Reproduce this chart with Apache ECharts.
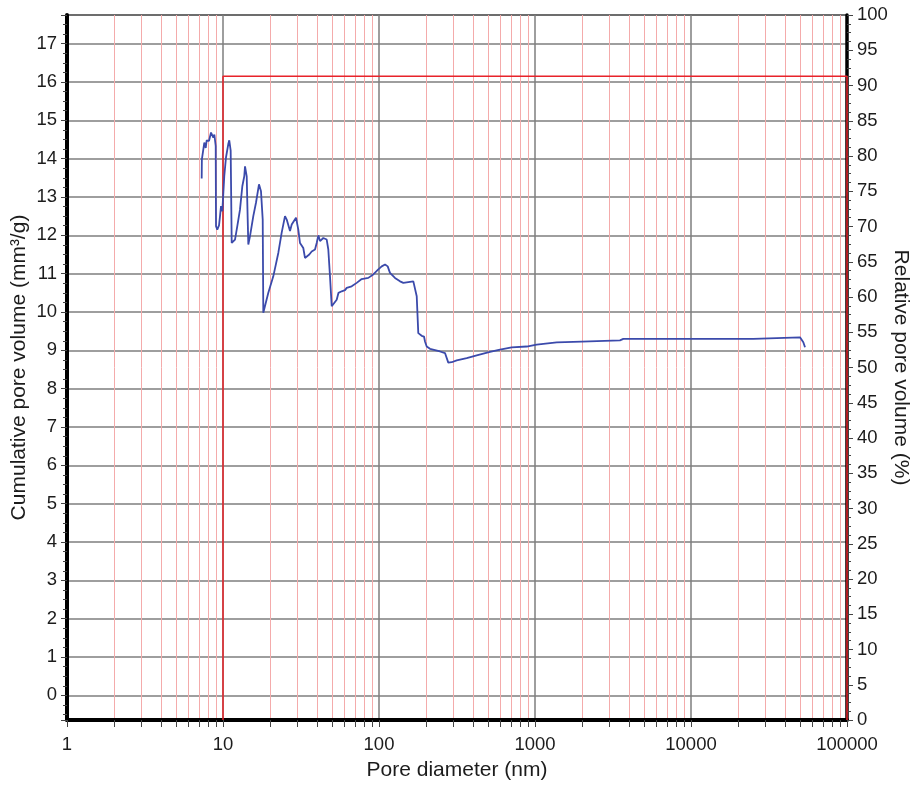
<!DOCTYPE html>
<html>
<head>
<meta charset="utf-8">
<title>Pore size distribution</title>
<script src="https://cdn.jsdelivr.net/npm/echarts@6/dist/echarts.min.js"></script>
<style>
  html, body { margin: 0; padding: 0; background: #fff; }
  #chart { width: 920px; height: 789px; }
</style>
</head>
<body>
<div id="chart"></div>
<script>
// Pore diameter (nm) and the cumulative pore volume (mm³/g) measured at each diameter
const diameterNm = [
  7.30, 7.32, 7.59, 7.75, 7.86, 8.13, 8.38, 8.54, 8.67, 8.80,
  8.98, 9.02, 9.19, 9.43, 9.57, 9.71, 9.90, 10.19, 10.45, 10.81,
  10.97, 11.20, 11.37, 11.64, 11.94, 12.35, 12.85, 13.30, 13.69, 13.84,
  14.19, 14.40, 14.53, 14.90, 15.64, 16.27, 17.01, 17.52, 17.97, 18.13,
  18.59, 19.52, 21.01, 22.62, 23.78, 24.97, 25.61, 26.22, 26.89, 27.57,
  28.23, 29.38, 30.39, 31.16, 31.95, 32.71, 33.54, 34.39, 35.74, 37.03,
  38.88, 39.87, 40.83, 41.87, 42.93, 43.95, 45.07, 46.21, 47.32, 48.52,
  49.76, 50.95, 53.56, 55.0, 57.67, 60.54, 62.09, 66.83, 71.95, 77.45,
  85.40, 91.93, 98.97, 104.1, 109.3, 113.7, 117.6, 126.6, 136.4, 143.2,
  154.1, 166.0, 170.2, 174.5, 178.6, 183.2, 187.8, 194.3, 197.2, 202.2,
  212.3, 246.0, 264.9, 278.1, 292.4, 314.8, 364.9, 422.9, 514.6, 596.6,
  708.8, 884.9, 1025, 1378, 1993, 3506, 3681, 25080, 25720, 49960,
  52480, 53810
];
const cumulativeVolume = [
  13.48, 13.98, 14.42, 14.28, 14.48, 14.46, 14.68, 14.72, 14.55, 14.63,
  14.33, 12.24, 12.15, 12.26, 12.50, 12.76, 12.63, 13.54, 14.03, 14.38,
  14.48, 14.21, 11.80, 11.76, 11.89, 12.24, 12.67, 13.28, 13.54, 13.80,
  13.54, 12.41, 11.76, 11.98, 12.50, 12.85, 13.33, 13.15, 12.41, 9.98,
  9.93, 10.50, 10.93, 11.54, 12.07, 12.50, 12.41, 12.46, 12.11, 12.28,
  12.33, 12.46, 12.15, 11.80, 11.80, 11.67, 11.41, 11.41, 11.50, 11.58,
  11.63, 11.80, 12.00, 11.85, 11.80, 11.93, 11.98, 11.89, 11.63, 10.93,
  10.15, 10.13, 10.32, 10.50, 10.54, 10.57, 10.63, 10.67, 10.76, 10.86,
  10.89, 10.98, 11.11, 11.19, 11.24, 11.19, 11.02, 10.89, 10.80, 10.76,
  10.78, 10.80, 10.76, 10.41, 9.45, 9.41, 9.38, 9.36, 9.23, 9.10,
  9.04, 8.97, 8.93, 8.68, 8.69, 8.74, 8.80, 8.87, 8.96, 9.02,
  9.08, 9.10, 9.15, 9.21, 9.23, 9.26, 9.30, 9.30, 9.34, 9.34,
  9.21, 9.08
];

// Relative pore volume (%) trace
const relativeDiameterNm = [10, 10, 100000, 100000];
const relativeVolumePct = [0, 91.3, 91.3, 0];

// Axis ranges and tick spacing
const xRange = [1, 100000];
const leftRange = [-0.642, 17.747];
const rightRange = [0, 100];
const rightStep = 5;

const FONT = '"Liberation Sans", Arial, sans-serif';
const INK = '#1c1c1c';
const GRID_GRAY = '#7e7e7e';
const GRID_PINK = '#f4abab';
const TICK = '#444';

const chart = echarts.init(document.getElementById('chart'), null, { renderer: 'canvas' });

const option = {
  animation: false,
  backgroundColor: '#fff',
  textStyle: { fontFamily: FONT, color: INK },
  grid: {
    left: 67, right: 73, top: 15, bottom: 69,
    outerBoundsMode: 'none',
    containLabel: false,
    show: true, borderColor: '#000', borderWidth: 1.5, backgroundColor: '#fff'
  },
  xAxis: {
    type: 'log',
    logBase: 10,
    min: xRange[0],
    max: xRange[1],
    name: 'Pore diameter (nm)',
    nameLocation: 'middle',
    nameGap: 40,
    nameMoveOverlap: false,
    nameTextStyle: { fontSize: 21, color: INK, fontFamily: FONT },
    axisLine: { show: true, onZero: false, lineStyle: { color: '#000', width: 4 } },
    axisTick: { show: true, length: 7, lineStyle: { color: TICK, width: 1 } },
    minorTick: { show: true, splitNumber: 9, length: 7, lineStyle: { color: TICK, width: 1 } },
    axisLabel: {
      fontSize: 18.5, color: INK, fontFamily: FONT, margin: 15,
      formatter: v => String(Math.round(v))
    },
    splitLine: { show: true, lineStyle: { color: GRID_GRAY, width: 1.5 } },
    minorSplitLine: { show: true, lineStyle: { color: GRID_PINK, width: 1 } }
  },
  yAxis: [
    {
      type: 'value',
      position: 'left',
      min: leftRange[0],
      max: leftRange[1],
      splitNumber: 18,
      minInterval: 1,
      maxInterval: 1,
      name: 'Cumulative pore volume (mm³/g)',
      nameLocation: 'middle',
      nameGap: 37,
      nameRotate: 90,
      nameMoveOverlap: false,
      nameTextStyle: { fontSize: 21, color: INK, fontFamily: FONT },
      axisLine: { show: true, onZero: false, lineStyle: { color: '#000', width: 4 } },
      axisTick: { show: true, length: 6, lineStyle: { color: TICK, width: 1 } },
      minorTick: { show: true, splitNumber: 4, length: 4, lineStyle: { color: TICK, width: 1 } },
      axisLabel: {
        fontSize: 18.5, color: INK, fontFamily: FONT, margin: 10,
        showMinLabel: false, showMaxLabel: false,
        formatter: v => (Math.abs(v - Math.round(v)) < 1e-6 ? String(Math.round(v)) : '')
      },
      splitLine: { show: true, lineStyle: { color: GRID_GRAY, width: 1.5 } }
    },
    {
      type: 'value',
      position: 'right',
      min: rightRange[0],
      max: rightRange[1],
      interval: rightStep,
      name: 'Relative pore volume (%)',
      nameLocation: 'middle',
      nameGap: 43,
      nameRotate: -90,
      nameMoveOverlap: false,
      nameTextStyle: { fontSize: 21, color: INK, fontFamily: FONT },
      axisLine: { show: true, onZero: false, lineStyle: { color: '#000', width: 3.5 } },
      axisTick: { show: true, length: 6, lineStyle: { color: TICK, width: 1 } },
      minorTick: { show: true, splitNumber: 4, length: 4, lineStyle: { color: TICK, width: 1 } },
      axisLabel: { fontSize: 18.5, color: INK, fontFamily: FONT, margin: 10 },
      splitLine: { show: false }
    }
  ],
  series: [
    {
      name: 'Cumulative pore volume',
      type: 'line',
      yAxisIndex: 0,
      data: diameterNm.map((d, i) => [d, cumulativeVolume[i]]),
      showSymbol: false,
      symbol: 'none',
      lineStyle: { color: '#3b4aab', width: 1.8 },
      z: 4
    },
    {
      name: 'Relative pore volume',
      type: 'line',
      yAxisIndex: 1,
      data: relativeDiameterNm.map((d, i) => [d, relativeVolumePct[i]]),
      showSymbol: false,
      symbol: 'none',
      clip: false,
      lineStyle: { color: '#e8232a', width: 1.5 },
      z: 3
    }
  ]
};

chart.setOption(option);
</script>
</body>
</html>
